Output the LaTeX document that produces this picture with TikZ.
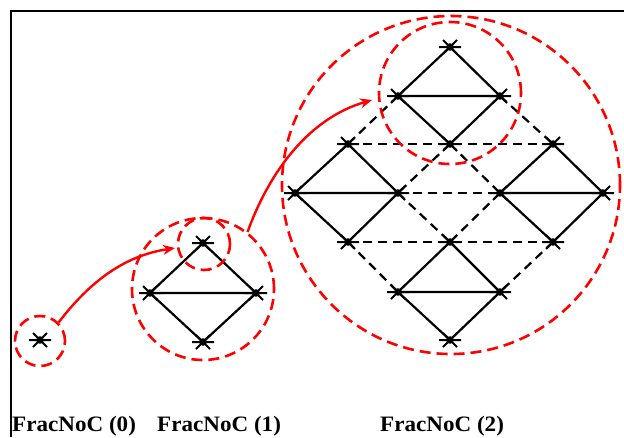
\documentclass[tikz,border=0pt]{standalone}
\usepackage{fontspec}
\setmainfont{Liberation Serif}
\usetikzlibrary{arrows.meta}
\begin{document}
\begin{tikzpicture}[x=1pt,y=-1pt,
  edge/.style={line width=2.2pt,black},
  dedge/.style={line width=2.2pt,black,dash pattern=on 9pt off 6pt},
  ring/.style={line width=2.6pt,red,dash pattern=on 11pt off 6pt},
  jump/.style={line width=2.4pt,red,-{Stealth[length=12pt,width=10pt]}},
  lbl/.style={font=\bfseries\fontsize{22}{24}\selectfont\addfontfeature{FakeStretch=1.05},anchor=base west,inner sep=0pt},
  mk/.pic={\draw[line width=2pt] (-11,0) -- (11,0) (-7,-7) -- (7,7) (-7,7) -- (7,-7);
           \fill (0,0) circle (3.8);}]
\useasboundingbox (0,0) rectangle (624,437);
% frame
\draw[line width=2.4pt] (11,437) -- (11,11) -- (624,11);
% ---------- FracNoC (0)
\coordinate (z0) at (40,340);
\node[ring,circle,draw,minimum size=50pt,inner sep=0pt] (c0) at (40,341) {};
% ---------- FracNoC (1)
\coordinate (a1) at (203,243);
\coordinate (a2) at (150,293);
\coordinate (a3) at (256,293);
\coordinate (a4) at (203,342);
\draw[edge] (a1) -- (a2) -- (a4) -- (a3) -- (a1) (a2) -- (a3);
\node[ring,circle,draw,minimum size=142pt,inner sep=0pt] (c1) at (203,289) {};
\node[ring,circle,draw,minimum size=52pt,inner sep=0pt] (c1s) at (204,244) {};
% ---------- FracNoC (2)
\coordinate (t1) at (450,47);
\coordinate (t2) at (398,96);
\coordinate (t3) at (500,96);
\coordinate (t4) at (450,144);
\coordinate (l1) at (348,144);
\coordinate (l2) at (295,193);
\coordinate (l3) at (398,193);
\coordinate (l4) at (348,242);
\coordinate (r1) at (553,144);
\coordinate (r2) at (500,193);
\coordinate (r3) at (603,193);
\coordinate (r4) at (553,242);
\coordinate (b1) at (450,242);
\coordinate (b2) at (398,292);
\coordinate (b3) at (500,292);
\coordinate (b4) at (450,340);
\foreach \p in {t,l,r,b}{
  \draw[edge] (\p1) -- (\p2) -- (\p4) -- (\p3) -- (\p1) (\p2) -- (\p3);
}
\draw[dedge] (l1) -- (t4) -- (r1);
\draw[dedge] (l3) -- (r2);
\draw[dedge] (l4) -- (b1) -- (r4);
\draw[dedge] (t2) -- (l1) (t3) -- (r1);
\draw[dedge] (t4) -- (l3) (t4) -- (r2);
\draw[dedge] (l3) -- (b1) (r2) -- (b1);
\draw[dedge] (l4) -- (b2) (r4) -- (b3);
\node[ring,circle,draw,minimum size=338pt,inner sep=0pt] (c2) at (451,185) {};
\node[ring,circle,draw,minimum size=142pt,inner sep=0pt] (c2s) at (450,93) {};
% markers
\foreach \n in {z0,a1,a2,a3,a4,t1,t2,t3,t4,l1,l2,l3,l4,r1,r2,r3,r4,b1,b2,b3,b4}
  \pic at (\n) {mk};
% arrows
\coordinate (e1) at (175,248);
\coordinate (e2) at (372,100);
\draw[jump] (c0.45) .. controls (95,275) and (130,255) .. (e1);
\draw[jump] (c1.52) .. controls (270,170) and (310,118) .. (e2);
% labels
\node[lbl] (n0) at (12,431) {FracNoC (0)};
\node[lbl] (n1) at (157,431) {FracNoC (1)};
\node[lbl] (n2) at (380,431) {FracNoC (2)};
\end{tikzpicture}
\end{document}
